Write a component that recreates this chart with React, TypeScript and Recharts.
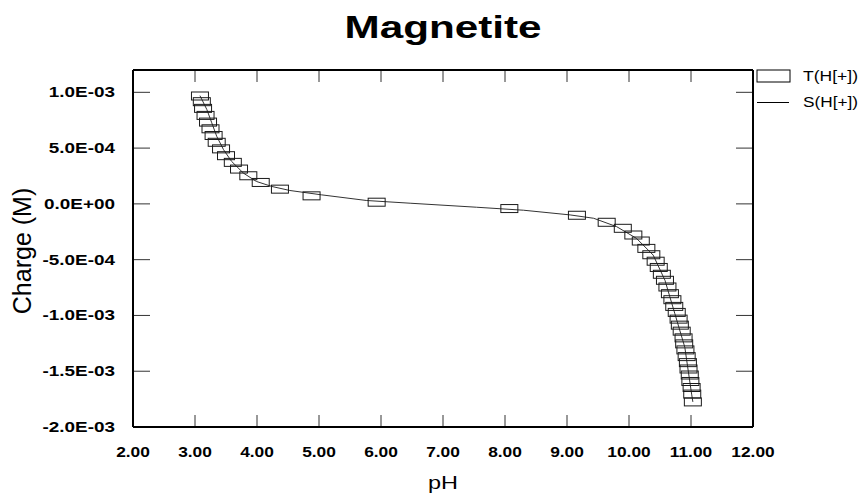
import { CartesianGrid, ComposedChart, Line, Scatter, XAxis, YAxis } from "recharts";

// measured titration points, T(H[+])
const tPh = [
  3.08, 3.11, 3.13, 3.17, 3.21, 3.25, 3.3, 3.35, 3.42, 3.5, 3.61, 3.71, 3.86, 4.06,
  4.37, 4.88, 5.93, 8.07, 9.16, 9.64, 9.9, 10.07, 10.19, 10.28, 10.36, 10.43, 10.48,
  10.53, 10.58, 10.62, 10.66, 10.7, 10.73, 10.77, 10.8, 10.82, 10.85, 10.88, 10.89,
  10.91, 10.93, 10.95, 10.96, 10.98, 10.99, 11.01, 11.02, 11.03,
];
const tCharge = [
  9.67e-4, 9.16e-4, 8.56e-4, 7.93e-4, 7.33e-4, 6.73e-4, 6.13e-4, 5.52e-4, 4.93e-4,
  4.32e-4, 3.72e-4, 3.12e-4, 2.52e-4, 1.92e-4, 1.32e-4, 7.2e-5, 1.5e-5, -4.2e-5,
  -1.02e-4, -1.65e-4, -2.19e-4, -2.79e-4, -3.33e-4, -3.99e-4, -4.56e-4, -5.14e-4,
  -5.7e-4, -6.31e-4, -6.85e-4, -7.45e-4, -8.05e-4, -8.59e-4, -9.19e-4, -9.73e-4,
  -1.033e-3, -1.087e-3, -1.141e-3, -1.201e-3, -1.255e-3, -1.309e-3, -1.369e-3,
  -1.423e-3, -1.48e-3, -1.534e-3, -1.592e-3, -1.646e-3, -1.705e-3, -1.775e-3,
];

// fitted curve, S(H[+])
const sPh = [
  3.08, 3.19, 3.27, 3.35, 3.46, 3.59, 3.78, 3.99, 4.24, 4.53, 5.04, 5.77, 6.47, 7.54,
  8.3, 9.05, 9.43, 9.8, 10.12, 10.39, 10.58, 10.74, 10.9, 11.01, 11.03,
];
const sCharge = [
  9.7e-4, 8.47e-4, 7.27e-4, 6.06e-4, 4.86e-4, 3.81e-4, 2.76e-4, 2.01e-4, 1.56e-4,
  1.2e-4, 8.1e-5, 3.0e-5, 6e-6, -3.0e-5, -5.7e-5, -9.9e-5, -1.29e-4, -2.04e-4,
  -3.09e-4, -4.59e-4, -6.85e-4, -9.85e-4, -1.285e-3, -1.705e-3, -1.775e-3,
];

const xTicks = [2, 3, 4, 5, 6, 7, 8, 9, 10, 11, 12];
const yTicks = [-0.002, -0.0015, -0.001, -0.0005, 0, 0.0005, 0.001];

const tData = tPh.map((ph, i) => ({ ph, charge: tCharge[i] }));
const sData = sPh.map((ph, i) => ({ ph, charge: sCharge[i] }));

const FONT = "'Liberation Sans', Arial, sans-serif";
const W = 862;
const H = 494;
const M = { top: 70, right: 109, bottom: 67, left: 133 };
const PLOT_W = W - M.left - M.right;
const PLOT_H = H - M.top - M.bottom;
const X_TICK = 12;
const Y_TICK = 17;

const fmtSci = (v: number) => {
  const [m, e] = v.toExponential(1).split("e");
  const n = parseInt(e, 10);
  const sign = n < 0 ? "-" : "+";
  return `${m}E${sign}${String(Math.abs(n)).padStart(2, "0")}`;
};

// mirrored axes hand us the inner end of the tick; push labels back outside
const YTick = ({ x, y, payload }: any) => (
  <text
    transform={`translate(${x - Y_TICK - 18} ${y + 5}) scale(1.26 1)`}
    textAnchor="end"
    fontFamily={FONT}
    fontWeight="bold"
    fontSize={15}
    fill="#000"
    stroke="none"
  >
    {fmtSci(payload.value)}
  </text>
);

const XTick = ({ x, y, payload }: any) => (
  <text
    transform={`translate(${x} ${y + X_TICK + 30}) scale(1.24 1)`}
    textAnchor="middle"
    fontFamily={FONT}
    fontWeight="bold"
    fontSize={14}
    fill="#000"
    stroke="none"
  >
    {payload.value.toFixed(2)}
  </text>
);

const NoTick = () => <g />;

const Box = (props: any) => (
  <rect
    x={props.cx - 8.5}
    y={props.cy - 4}
    width={17}
    height={8}
    fill="none"
    stroke="#1a1a1a"
    strokeWidth={1}
  />
);

const axisLine = { stroke: "#000", strokeWidth: 2 };

// inward tick marks on all four sides: grid lines dashed so only both ends show
const hDash = `${Y_TICK} ${PLOT_W - 2 * Y_TICK} ${Y_TICK}`;
const vDash = `${X_TICK} ${PLOT_H - 2 * X_TICK} ${X_TICK}`;

export default function App() {
  return (
    <div style={{ position: "absolute", left: 0, top: 0, width: W, height: H, background: "#fff" }}>
      <ComposedChart width={W} height={H} margin={M}>
        <CartesianGrid
          xAxisId="b"
          yAxisId="l"
          horizontal
          vertical={false}
          stroke="#333"
          strokeDasharray={hDash}
        />
        <CartesianGrid
          xAxisId="b"
          yAxisId="l"
          horizontal={false}
          vertical
          stroke="#333"
          strokeDasharray={vDash}
        />
        <XAxis
          xAxisId="b"
          type="number"
          dataKey="ph"
          domain={[2, 12]}
          ticks={xTicks}
          height={1}
          mirror
          axisLine={axisLine}
          tickLine={false}
          tickSize={X_TICK}
          tickMargin={0}
          tick={<XTick />}
          interval={0}
        />
        <XAxis
          xAxisId="t"
          orientation="top"
          type="number"
          dataKey="ph"
          domain={[2, 12]}
          ticks={xTicks}
          height={1}
          mirror
          axisLine={axisLine}
          tickLine={false}
          tick={<NoTick />}
          interval={0}
        />
        <YAxis
          yAxisId="l"
          type="number"
          dataKey="charge"
          domain={[-0.002, 0.0012]}
          ticks={yTicks}
          width={1}
          mirror
          axisLine={axisLine}
          tickLine={false}
          tickSize={Y_TICK}
          tickMargin={0}
          tick={<YTick />}
          interval={0}
        />
        <YAxis
          yAxisId="r"
          orientation="right"
          type="number"
          dataKey="charge"
          domain={[-0.002, 0.0012]}
          ticks={yTicks}
          width={1}
          mirror
          axisLine={axisLine}
          tickLine={false}
          tick={<NoTick />}
          interval={0}
        />
        <Line
          xAxisId="b"
          yAxisId="l"
          data={sData}
          dataKey="charge"
          type="linear"
          stroke="#333"
          strokeWidth={1}
          dot={false}
          activeDot={false}
          isAnimationActive={false}
        />
        <Scatter
          xAxisId="b"
          yAxisId="l"
          data={tData}
          dataKey="charge"
          shape={<Box />}
          isAnimationActive={false}
        />
      </ComposedChart>

      {/* title, axis titles, legend */}
      <svg
        width={W}
        height={H}
        style={{ position: "absolute", left: 0, top: 0, pointerEvents: "none" }}
        fontFamily={FONT}
      >
        <text
          x={443}
          y={38}
          textAnchor="middle"
          fontWeight="bold"
          fontSize={32}
          textLength={197}
          lengthAdjust="spacingAndGlyphs"
        >
          Magnetite
        </text>
        <text x={443} y={489} textAnchor="middle" fontSize={18} textLength={30} lengthAdjust="spacingAndGlyphs">
          pH
        </text>
        <text transform="translate(31 251) rotate(-90)" textAnchor="middle" fontSize={25}>
          Charge (M)
        </text>

        <rect x={757} y={70} width={33} height={12} fill="none" stroke="#000" strokeWidth={1} />
        <text x={803} y={81} fontSize={14} textLength={55} lengthAdjust="spacingAndGlyphs">
          T(H[+])
        </text>
        <line x1={757} x2={789} y1={102.5} y2={102.5} stroke="#000" strokeWidth={1} />
        <text x={803} y={107} fontSize={14} textLength={55} lengthAdjust="spacingAndGlyphs">
          S(H[+])
        </text>
      </svg>
    </div>
  );
}
